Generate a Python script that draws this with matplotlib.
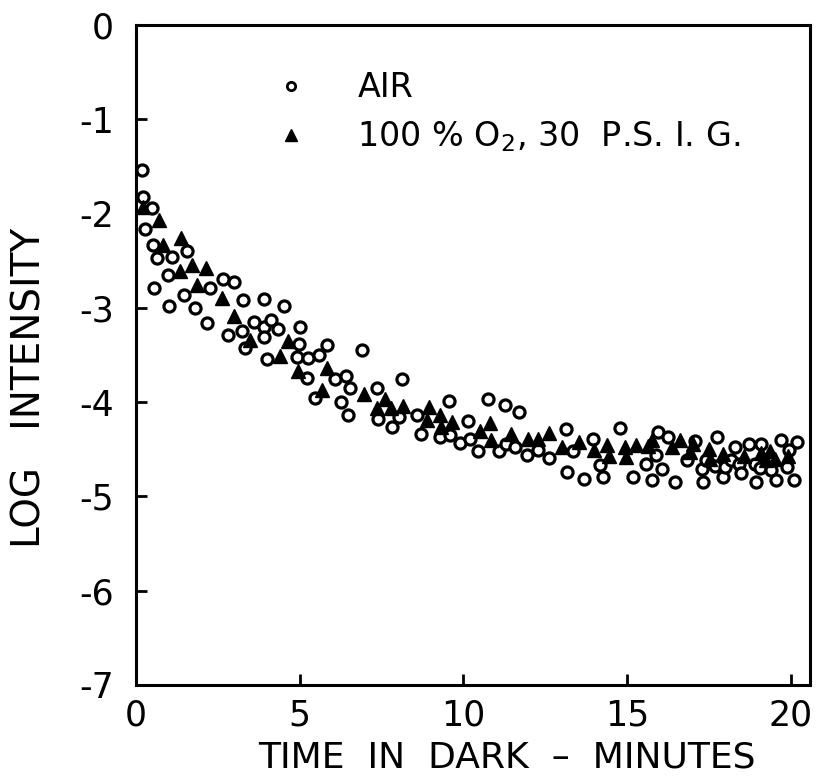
import matplotlib
matplotlib.use("Agg")
import matplotlib.pyplot as plt
from matplotlib.lines import Line2D

# time in dark (minutes) and log intensity
air_t = [0.17, 0.22, 0.28, 0.48, 0.51, 0.55, 0.65, 0.96, 1.02, 1.09, 1.45, 1.57,
         1.81, 2.17, 2.27, 2.67, 2.80, 3.00, 3.24, 3.27, 3.34, 3.59, 3.90, 3.92,
         3.92, 4.13, 4.34, 4.51, 4.00, 4.92, 4.97, 5.02, 5.23, 5.25, 5.46, 5.58,
         5.84, 6.07, 6.25, 6.40, 6.48, 6.55, 6.91, 7.37, 7.40, 7.83, 8.03, 8.12,
         8.58, 8.72, 9.29, 9.57, 9.60, 9.90, 10.13, 10.21, 10.45, 10.76, 11.10,
         11.27, 11.30, 11.57, 11.71, 11.94, 12.27, 12.63, 13.14, 13.16, 13.36,
         13.70, 13.96, 14.18, 14.26, 14.79, 15.18, 15.59, 15.77, 15.88, 15.95,
         16.08, 16.25, 16.46, 16.85, 17.09, 17.29, 17.33, 17.43, 17.68, 17.76,
         17.93, 17.99, 18.17, 18.29, 18.44, 18.50, 18.72, 18.91, 18.96, 19.08,
         19.09, 19.41, 19.57, 19.72, 19.89, 19.95, 20.11, 20.21]
air_log = [-1.54, -1.82, -2.16, -1.94, -2.33, -2.79, -2.47, -2.65, -2.98, -2.46, -2.86, -2.40,
           -3.00, -3.16, -2.79, -2.69, -3.29, -2.73, -3.25, -2.92, -3.43, -3.15, -3.20, -3.31,
           -2.91, -3.13, -3.22, -2.98, -3.54, -3.52, -3.38, -3.20, -3.74, -3.53, -3.96, -3.50,
           -3.39, -3.76, -4.00, -3.72, -4.14, -3.85, -3.45, -3.85, -4.18, -4.27, -4.16, -3.76,
           -4.14, -4.34, -4.37, -3.99, -4.35, -4.43, -4.20, -4.39, -4.52, -3.97, -4.52,
           -4.03, -4.44, -4.48, -4.11, -4.56, -4.51, -4.59, -4.29, -4.74, -4.52,
           -4.82, -4.39, -4.67, -4.79, -4.28, -4.79, -4.66, -4.83, -4.56, -4.32,
           -4.71, -4.37, -4.85, -4.61, -4.41, -4.71, -4.85, -4.61, -4.68, -4.37,
           -4.80, -4.69, -4.61, -4.48, -4.66, -4.75, -4.44, -4.66, -4.85, -4.70,
           -4.45, -4.72, -4.83, -4.40, -4.69, -4.51, -4.83, -4.42]

o2_t = [0.20, 0.71, 0.82, 1.33, 1.37, 1.71, 1.86, 2.14, 2.62, 3.00, 3.49, 4.41,
        4.65, 4.95, 5.69, 5.84, 6.96, 7.37, 7.60, 7.78, 8.17, 8.88, 8.95, 9.29,
        9.33, 9.64, 10.51, 10.82, 10.86, 11.45, 11.97, 12.27, 12.63, 13.02, 13.55,
        13.98, 14.39, 14.45, 14.93, 14.98, 15.28, 15.64, 15.77, 16.39, 16.61, 16.92,
        17.02, 17.52, 17.54, 17.94, 18.58, 19.11, 19.24, 19.37, 19.54, 19.91]
o2_log = [-1.93, -2.07, -2.33, -2.61, -2.26, -2.55, -2.76, -2.58, -2.90, -3.09, -3.34, -3.51,
          -3.35, -3.67, -3.87, -3.64, -3.92, -4.06, -3.97, -4.06, -4.04, -4.19, -4.05, -4.14,
          -4.27, -4.21, -4.31, -4.22, -4.40, -4.34, -4.39, -4.39, -4.33, -4.48, -4.42,
          -4.51, -4.46, -4.57, -4.48, -4.58, -4.46, -4.47, -4.40, -4.48, -4.40, -4.53,
          -4.45, -4.50, -4.60, -4.55, -4.57, -4.54, -4.61, -4.52, -4.60, -4.57]

x_ticks = [0, 5, 10, 15, 20]
y_ticks = [0, -1, -2, -3, -4, -5, -6, -7]

plt.rcParams["axes.unicode_minus"] = False
plt.rcParams["font.family"] = "DejaVu Sans"

fig = plt.figure(figsize=(8.2, 7.8), dpi=100)
ax = fig.add_axes([0.166, 0.122, 0.822, 0.846])

ax.plot(air_t, air_log, linestyle="none", marker="o", markersize=8,
        markerfacecolor="white", markeredgecolor="black", markeredgewidth=2.3)
ax.plot(o2_t, o2_log, linestyle="none", marker="^", markersize=10,
        markerfacecolor="black", markeredgecolor="black")

ax.set_xlim(0, 20.6)
ax.set_ylim(-7, 0)
ax.set_xticks(x_ticks)
ax.set_yticks(y_ticks)
ax.set_xticklabels([str(v) for v in x_ticks])
ax.set_yticklabels([str(v) for v in y_ticks])

for side in ax.spines.values():
    side.set_linewidth(2.2)
ax.tick_params(axis="both", direction="in", length=8, width=2, labelsize=25)
ax.tick_params(axis="x", pad=10, top=False)
ax.tick_params(axis="y", pad=16)

ax.set_xlabel("TIME  IN  DARK  –  MINUTES", fontsize=26)
ax.xaxis.set_label_coords(0.55, -0.085)
ax.set_ylabel("LOG   INTENSITY", fontsize=28)
ax.yaxis.set_label_coords(-0.13, 0.45)

handles = [
    Line2D([0], [0], linestyle="none", marker="o", markersize=6,
           markerfacecolor="white", markeredgecolor="black", markeredgewidth=2),
    Line2D([0], [0], linestyle="none", marker="^", markersize=8,
           markerfacecolor="black", markeredgecolor="black"),
]
ax.legend(handles, ["AIR", "100 % O$_2$, 30  P.S. I. G."], loc="upper left",
          bbox_to_anchor=(0.16, 0.975), frameon=False, fontsize=24,
          handletextpad=1.5, labelspacing=0.45, handlelength=1.0)

fig.savefig("out.png", dpi=100)
